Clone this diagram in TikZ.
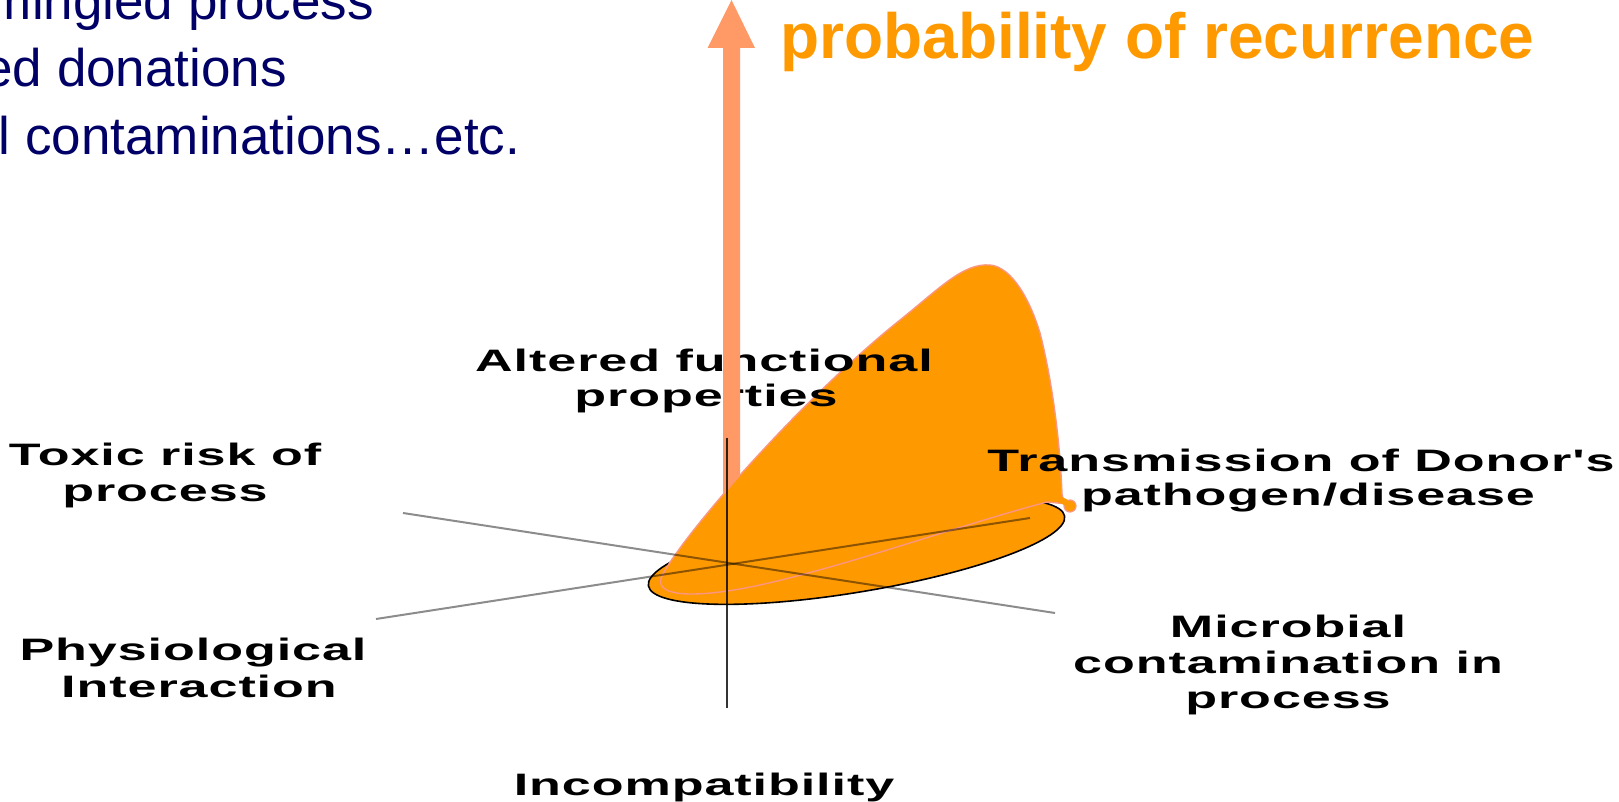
\documentclass[tikz,border=0pt]{standalone}
\usepackage{fontspec}
\setmainfont{Liberation Sans}
\newfontfamily\labfont[FakeStretch=1.68,LetterSpace=3]{Liberation Sans}
\definecolor{navy}{RGB}{0,0,102}
\definecolor{orng}{RGB}{255,153,0}
\definecolor{salmon}{RGB}{255,153,102}
\definecolor{pinkline}{RGB}{250,150,130}
\tikzset{
  lab/.style={font=\labfont\bfseries\fontsize{15.5pt}{17pt}\selectfont, anchor=base, inner sep=0pt, text=black},
  bluetxt/.style={font=\fontsize{26.5pt}{30pt}\selectfont, anchor=base west, inner sep=0pt, text=navy},
  axisgray/.style={draw=black, draw opacity=0.45, line width=1pt},
  axisdark/.style={draw=black, draw opacity=0.8, line width=0.8pt},
  surface/.style={fill=orng, draw=pinkline, line width=0.7pt},
}
\begin{document}
\begin{tikzpicture}[x=0.5pt,y=-0.5pt]
\useasboundingbox (0,0) rectangle (1619,802);
\clip (0,0) rectangle (1619,802);
% blue text at top left
\node[bluetxt] (t1) at (-12.5,20) {mingled process};
\node[bluetxt] (t2) at (-17,87) {ed donations};
\node[bluetxt] (t3) at (-1.5,155) {l contaminations…etc.};
% title
\node[font=\bfseries\fontsize{32pt}{36pt}\selectfont, text=orng, anchor=base west, inner sep=0pt] (title) at (780,59) {probability of recurrence};
% base ellipse
\filldraw[fill=orng, draw=black, line width=0.8pt, rotate around={9.5:(856.5,551)}] (856.5,551) ellipse [x radius=105.5pt, y radius=20.5pt];
% surface
\filldraw[surface] (661,578) .. controls (678,540) and (800,400) .. (900,320)
  .. controls (940,288) and (963,263) .. (990,265)
  .. controls (1012,267) and (1030,300) .. (1040,333)
  .. controls (1052,380) and (1060,440) .. (1062,494)
  .. controls (1063,500) and (1065,503) .. (1068,504)
  -- (1047,502) .. controls (960,525) and (850,565) .. (760,585)
  .. controls (700,598) and (655,598) .. (661,578) -- cycle;
\filldraw[fill=orng, draw=pinkline, line width=0.6pt] (1070,506) circle [radius=6];
\fill[orng] (1060,496) -- (1068,500) -- (1066,506) -- (1058,502) -- cycle;
% labels
\node[lab] (alt1) at (704,372) {Altered functional};
\node[lab] (alt2) at (706,407) {properties};
\node[lab] (tox1) at (165,466) {Toxic risk of};
\node[lab] (tox2) at (165,502) {process};
\node[lab] (phy1) at (193,660) {Physiological};
\node[lab] (phy2) at (199,697) {Interaction};
\node[lab] (tra1) at (1301,472) {Transmission of Donor's};
\node[lab] (tra2) at (1308,505) {pathogen/disease};
\node[lab] (mic1) at (1288,637) {Microbial};
\node[lab] (mic2) at (1288,673) {contamination in};
\node[lab] (mic3) at (1288,708) {process};
\node[lab] (inc) at (704,795) {Incompatibility};
% probability arrow
\fill[salmon] (731.5,0) -- (755,48) -- (740,48) -- (740,475.5) -- (723,495.5) -- (723,48) -- (707.5,48) -- cycle;
% axes
\coordinate (O) at (727,564);
\draw[axisgray] (403,513) -- (1055,613);
\draw[axisgray] (376,619) -- (1030,518);
\draw[axisdark] (727,438) -- (727,708);
\end{tikzpicture}
\end{document}
